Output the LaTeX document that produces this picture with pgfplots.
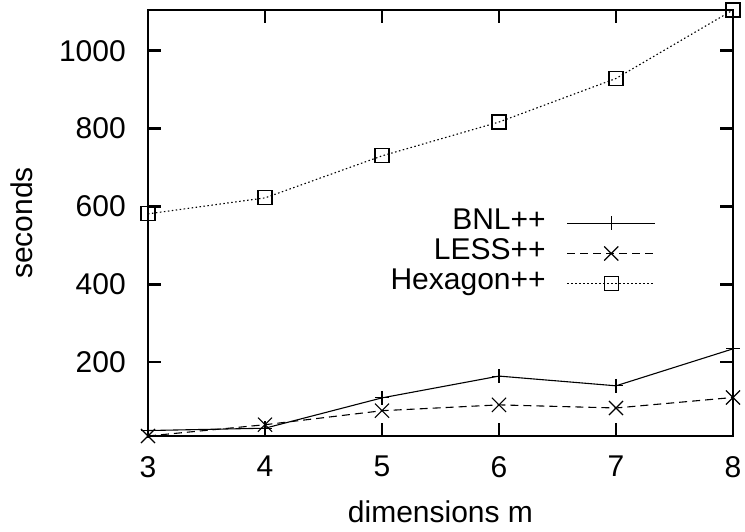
\documentclass[border=0pt]{standalone}
\usepackage{fontspec}
\setmainfont{Liberation Sans}
\usepackage{pgfplots}
\pgfplotsset{compat=1.18}
\begin{document}
\begin{tikzpicture}
\useasboundingbox (-148pt,-96pt) rectangle (597pt,436pt);
\begin{axis}[
  at={(0pt,0pt)}, anchor=south west,
  width=585pt, height=426pt, scale only axis,
  xmin=3, xmax=8, ymin=10, ymax=1105,
  xtick={3,4,5,6,7,8}, ytick={200,400,600,800,1000},
  tick align=inside, major tick length=13pt,
  axis line style={line width=2.8pt},
  every tick/.style={black, line width=2.8pt},
  font=\fontsize{30}{36}\selectfont,
  /pgf/number format/assume math mode=true,
  /pgf/number format/1000 sep={},
  yticklabel style={inner xsep=0pt, xshift=-22pt},
  xticklabel style={inner ysep=0pt, yshift=-20pt},
  xlabel={dimensions m}, ylabel={seconds},
  xlabel style={at={(axis description cs:0.5,-0.2042)}, anchor=base},
  ylabel style={at={(axis description cs:-0.1966,0.5)}, anchor=base},
  clip=false,
  legend plot pos=right,
  legend cell align=right,
  legend style={draw=none, fill=none, inner sep=0pt,
    at={(0.8684,0.4284)}, anchor=east,
    nodes={inner sep=0pt, text height=21pt, text depth=9pt}},
  legend image code/.code={\path (0pt,0pt);
    \draw[mark repeat=2,mark phase=2,#1] plot coordinates {(21pt,0pt) (65pt,0pt) (109pt,0pt)};},
]
\addplot[black, line width=1.1pt, mark=+, mark size=7pt, mark options={solid}]
  coordinates {(3,24) (4,30) (5,108) (6,164) (7,139) (8,234)};
\addlegendentry{BNL++}
\addplot[black, line width=1.1pt, dash pattern=on 8pt off 5pt, mark=x, mark size=10pt, mark options={solid}]
  coordinates {(3,10) (4,39) (5,75) (6,90) (7,82) (8,109)};
\addlegendentry{LESS++}
\addplot[black, line width=1.1pt, dash pattern=on 1.5pt off 2.5pt, mark=square, mark size=7pt, mark options={solid}]
  coordinates {(3,581) (4,622) (5,730) (6,817) (7,929) (8,1105)};
\addlegendentry{Hexagon++}
\end{axis}
\end{tikzpicture}
\end{document}
